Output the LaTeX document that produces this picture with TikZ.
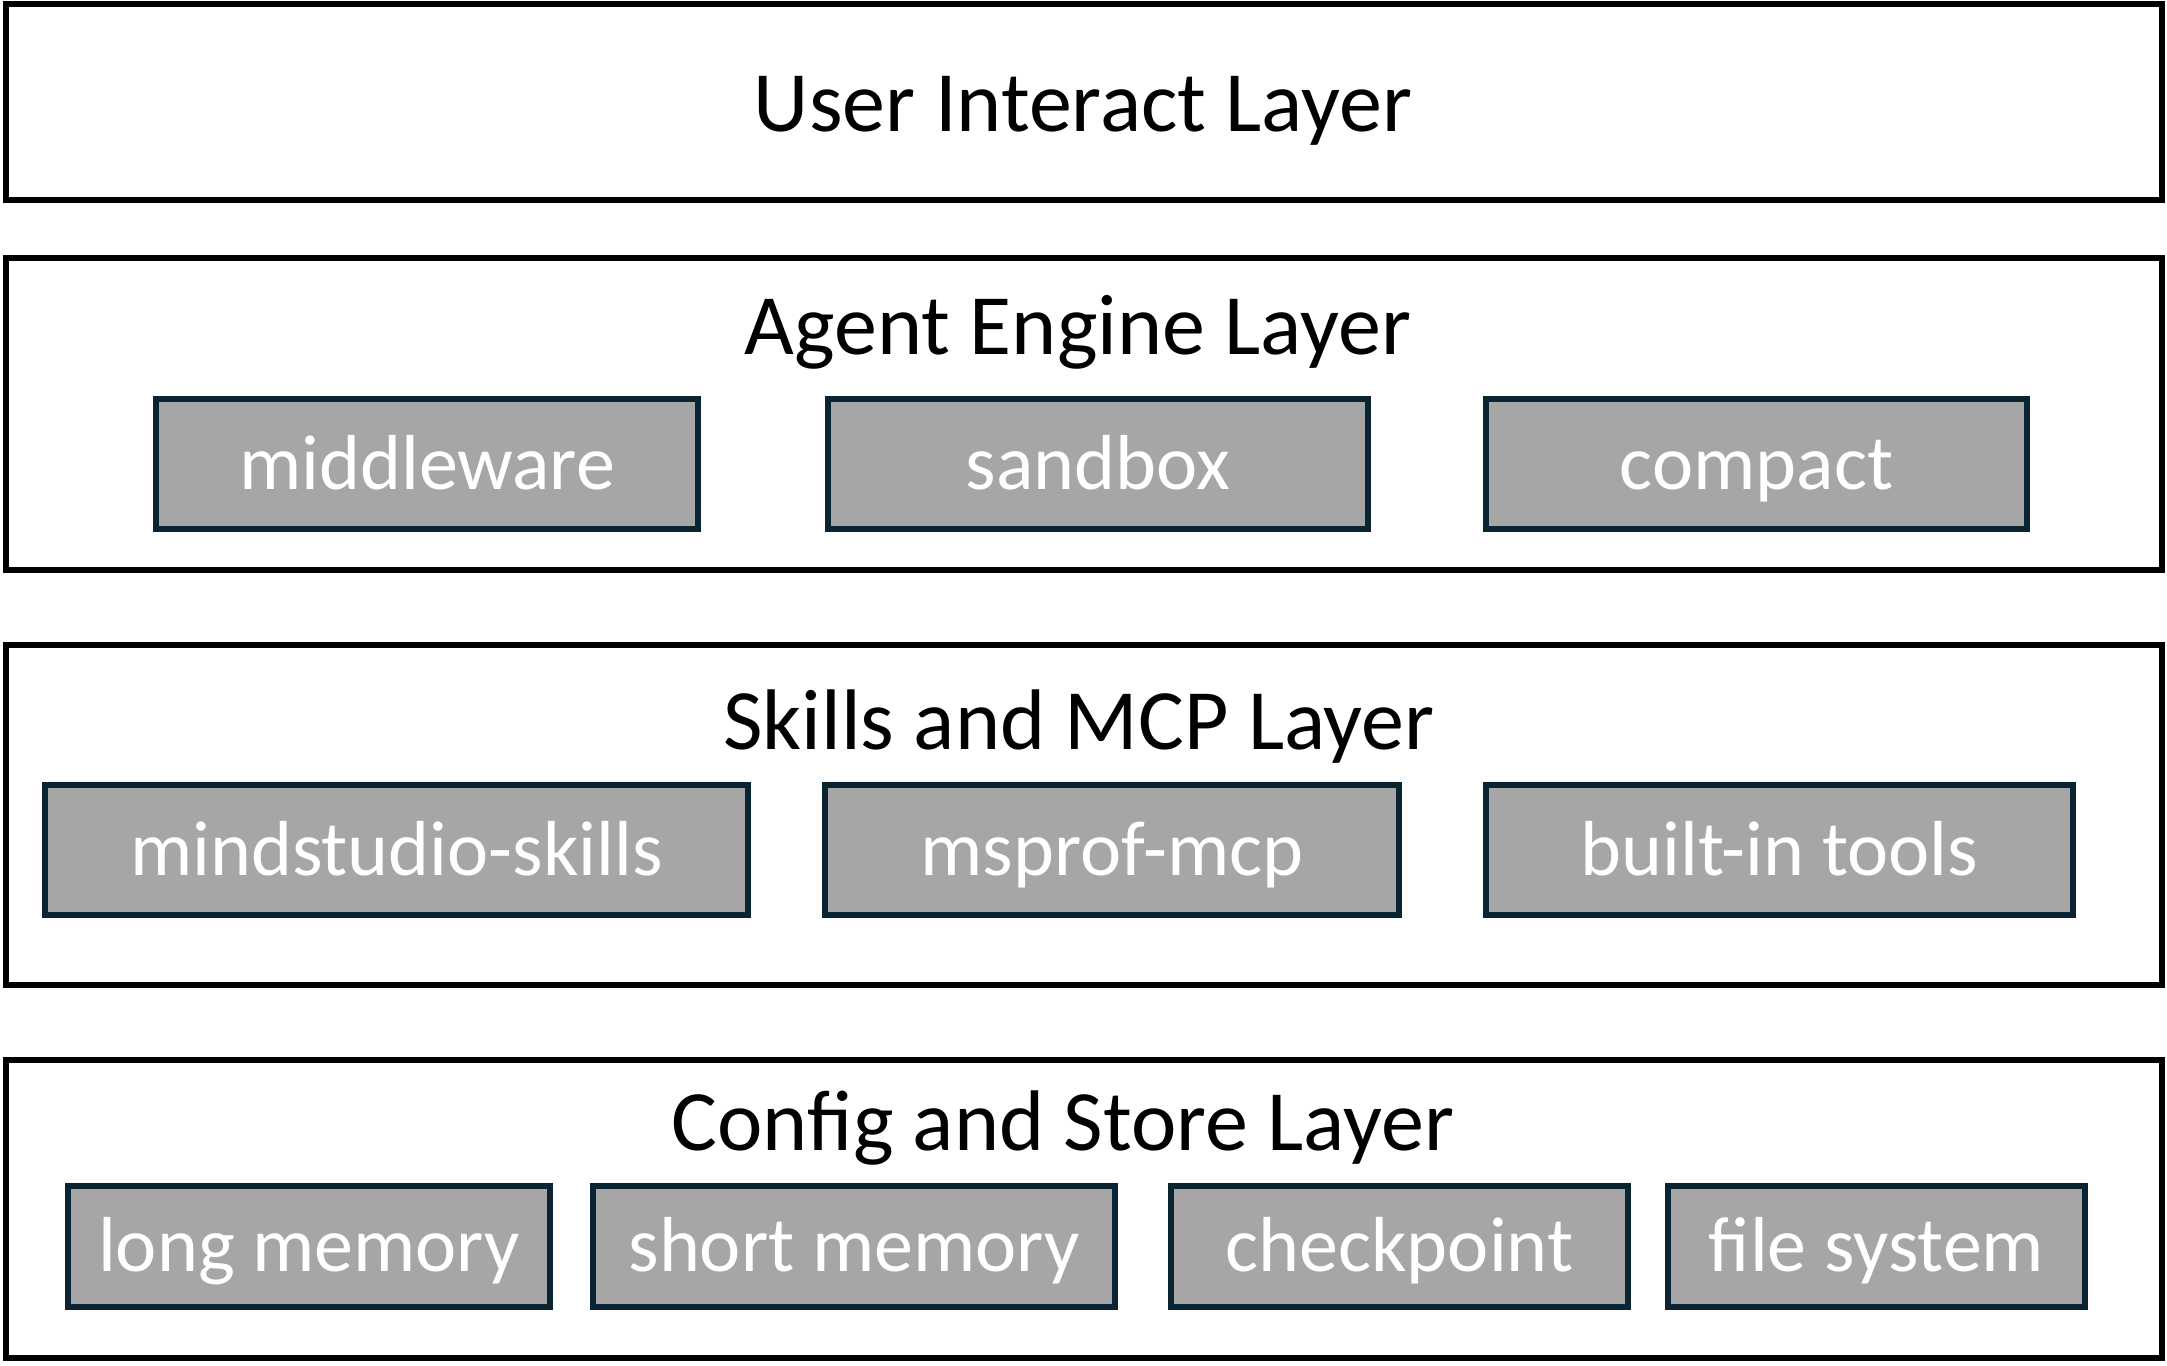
\documentclass[tikz,border=0pt]{standalone}
\usepackage{fontspec}
\setmainfont{Carlito}
\definecolor{boxfill}{HTML}{A6A6A6}
\definecolor{boxline}{HTML}{0A2433}
\newcommand\pbox[6]{%
  \node[cbox, minimum width={0.5pt*(#4-#2)}, minimum height={0.5pt*(#5-#3)}] (#1) at ({(#2+#4)/2},{(#3+#5)/2}) {#6};}
\newcommand\lbox[5]{%
  \node[layerbox, minimum width={0.5pt*(#4-#2)}, minimum height={0.5pt*(#5-#3)}] (#1) at ({(#2+#4)/2},{(#3+#5)/2}) {};}
\begin{document}
\begin{tikzpicture}[x=0.5pt,y=-0.5pt,
  layerbox/.style={draw=black, line width=3.2pt, fill=white, inner sep=0pt, outer sep=0pt},
  cbox/.style={draw=boxline, fill=boxfill, line width=3.2pt, inner sep=0pt, outer sep=0pt,
     text=white, font=\fontsize{39}{44}\selectfont, text height=33pt, text depth=8pt},
  title/.style={anchor=base, inner sep=0pt, font=\fontsize{43}{50}\selectfont, text=black}]
\useasboundingbox (0,0) rectangle (2167,1365);
% layers
\lbox{L1}{6}{4}{2162}{200}
\lbox{L2}{6}{258}{2162}{570}
\lbox{L3}{6}{645}{2162}{985}
\lbox{L4}{6}{1060}{2162}{1358}
% titles
\node[title] (t1) at (1083,131) {User Interact Layer};
\node[title] (t2) at (1078,354) {Agent Engine Layer};
\node[title] (t3) at (1079,749) {Skills and MCP Layer};
\node[title] (t4) at (1063,1150) {Config and Store Layer};
% agent engine boxes
\pbox{mw}{156}{399}{698}{529}{middleware}
\pbox{sb}{828}{399}{1368}{529}{sandbox}
\pbox{cp}{1486}{399}{2027}{529}{compact}
% skills boxes
\pbox{ms}{45}{785}{748}{915}{mindstudio-skills}
\pbox{mm}{825}{785}{1399}{915}{msprof-mcp}
\pbox{bt}{1486}{785}{2073}{915}{built-in tools}
% store boxes
\pbox{lm}{68}{1186}{550}{1307}{long memory}
\pbox{sm}{593}{1186}{1115}{1307}{short memory}
\pbox{ck}{1171}{1186}{1628}{1307}{checkpoint}
\pbox{fs}{1668}{1186}{2085}{1307}{file system}
\end{tikzpicture}
\end{document}
